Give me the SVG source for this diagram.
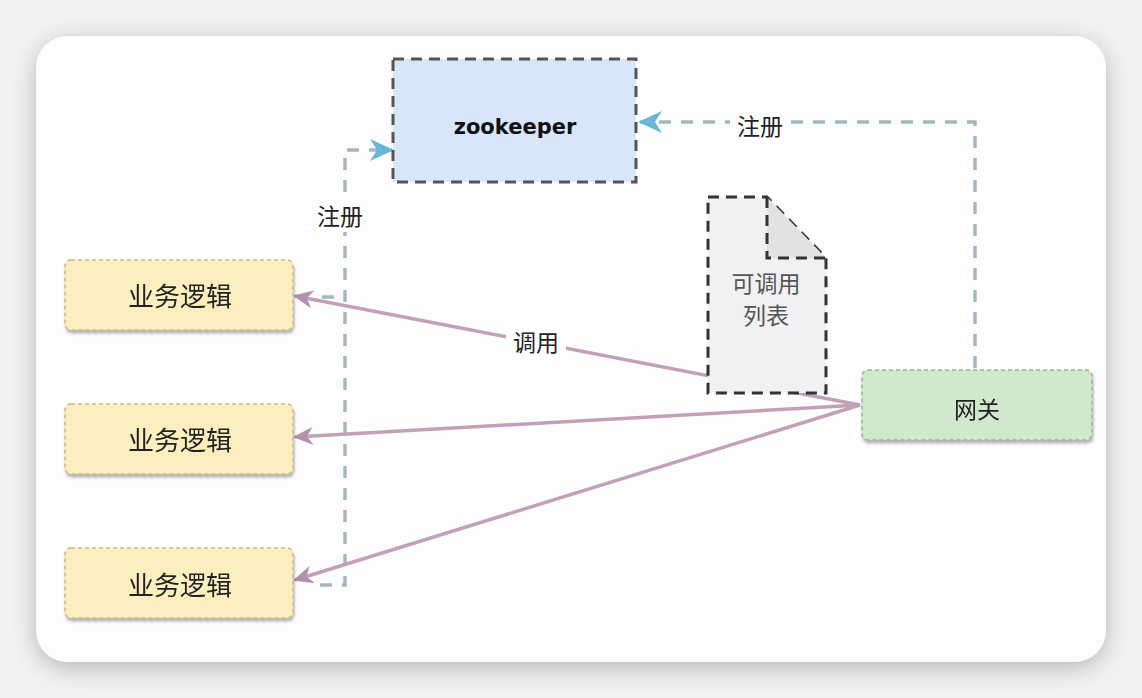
<svg xmlns="http://www.w3.org/2000/svg" width="1142" height="698" viewBox="0 0 1142 698">
  <defs>
    <filter id="cardShadow" x="-10%" y="-10%" width="120%" height="125%">
      <feGaussianBlur in="SourceAlpha" stdDeviation="12"/>
      <feOffset dx="0" dy="6" result="b"/>
      <feComponentTransfer><feFuncA type="linear" slope="0.25"/></feComponentTransfer>
      <feMerge><feMergeNode/><feMergeNode in="SourceGraphic"/></feMerge>
    </filter>
    <filter id="nodeShadow" x="-5%" y="-10%" width="110%" height="130%">
      <feGaussianBlur in="SourceAlpha" stdDeviation="1.5"/>
      <feOffset dx="1" dy="3"/>
      <feComponentTransfer><feFuncA type="linear" slope="0.3"/></feComponentTransfer>
      <feMerge><feMergeNode/><feMergeNode in="SourceGraphic"/></feMerge>
    </filter>
    <marker id="callArrow" viewBox="0 0 22 18" refX="20" refY="9" markerWidth="22" markerHeight="18" markerUnits="userSpaceOnUse" orient="auto">
      <path d="M22,9 L2,0 L8,9 L2,18 Z" fill="#b48fab"/>
    </marker>
    <marker id="regArrow" viewBox="0 0 26 22" refX="24" refY="11" markerWidth="26" markerHeight="22" markerUnits="userSpaceOnUse" orient="auto">
      <path d="M26,11 L2,0 L9,11 L2,22 Z" fill="#6db5d6"/>
    </marker>
  </defs>
  <style>
    .biz rect { fill: #fcefbf; stroke: #c9b978; stroke-width: 1.5; stroke-dasharray: 4 3; }
    .cjk { font-family: "Noto Sans CJK SC", "Noto Sans", sans-serif; fill: #222; }
    .reg { fill: none; stroke: #a3b8bd; stroke-width: 3.5; stroke-dasharray: 12 10; }
    .call { fill: none; stroke: #c2a0b6; stroke-width: 3.5; }
  </style>
  <rect x="0" y="0" width="1142" height="698" fill="#f2f2f2"/>
  <rect x="36" y="36" width="1070" height="626" rx="32" fill="#fefdfe" filter="url(#cardShadow)"/>

  <g id="connectors">
    <path class="reg" d="M975,368 L975,122 L640,122" marker-end="url(#regArrow)"/>
    <path class="reg" d="M320,585 L345,585 L345,150 L392,150" marker-end="url(#regArrow)"/>
    <path class="reg" d="M322,297 L345,297"/>
    <line class="call" x1="860" y1="405" x2="295" y2="296" marker-end="url(#callArrow)"/>
    <line class="call" x1="860" y1="405" x2="295" y2="437" marker-end="url(#callArrow)"/>
    <line class="call" x1="860" y1="405" x2="295" y2="580" marker-end="url(#callArrow)"/>
    <rect x="506" y="324" width="60" height="34" fill="#fefdfe"/>
    <text class="cjk" x="536" y="351" font-size="23" text-anchor="middle">调用</text>
    <rect x="730" y="108" width="60" height="30" fill="#fefdfe"/>
    <text class="cjk" x="760" y="135" font-size="23" text-anchor="middle">注册</text>
    <rect x="310" y="198" width="60" height="34" fill="#fefdfe"/>
    <text class="cjk" x="340" y="225" font-size="23" text-anchor="middle">注册</text>
  </g>

  <g id="zookeeper">
    <rect x="393" y="59" width="243" height="123" fill="#d8e6fa" stroke="#555" stroke-width="3" stroke-dasharray="11 7"/>
    <text x="515" y="134" font-family="DejaVu Sans, sans-serif" font-weight="bold" font-size="21" text-anchor="middle" fill="#111">zookeeper</text>
  </g>

  <g id="callable-list">
    <path d="M708,197 L767,197 L826,258 L826,393 L708,393 Z" fill="#f1f0f2" stroke="#333" stroke-width="3" stroke-dasharray="11 7"/>
    <path d="M767,197 L767,258 L826,258 Z" fill="#e2e2e2"/>
    <path d="M767,197 L767,258 L826,258" fill="none" stroke="#333" stroke-width="3" stroke-dasharray="11 7"/>
    <text class="cjk" x="766" y="292" font-size="23" text-anchor="middle" style="fill:#555">可调用</text>
    <text class="cjk" x="766" y="324" font-size="23" text-anchor="middle" style="fill:#555">列表</text>
  </g>

  <g id="biz1" class="biz" filter="url(#nodeShadow)">
    <rect x="65" y="260" width="228" height="70" rx="6"/>
    <text class="cjk" x="180" y="306" font-size="26" text-anchor="middle">业务逻辑</text>
  </g>
  <g id="biz2" class="biz" filter="url(#nodeShadow)">
    <rect x="65" y="404" width="228" height="70" rx="6"/>
    <text class="cjk" x="180" y="450" font-size="26" text-anchor="middle">业务逻辑</text>
  </g>
  <g id="biz3" class="biz" filter="url(#nodeShadow)">
    <rect x="65" y="548" width="228" height="70" rx="6"/>
    <text class="cjk" x="180" y="595" font-size="26" text-anchor="middle">业务逻辑</text>
  </g>

  <g id="gateway" filter="url(#nodeShadow)">
    <rect x="862" y="370" width="230" height="70" rx="6" fill="#d0e8cc" stroke="#9ab09a" stroke-width="1.5" stroke-dasharray="4 3"/>
    <text class="cjk" x="977" y="418" font-size="23" text-anchor="middle">网关</text>
  </g>
</svg>
